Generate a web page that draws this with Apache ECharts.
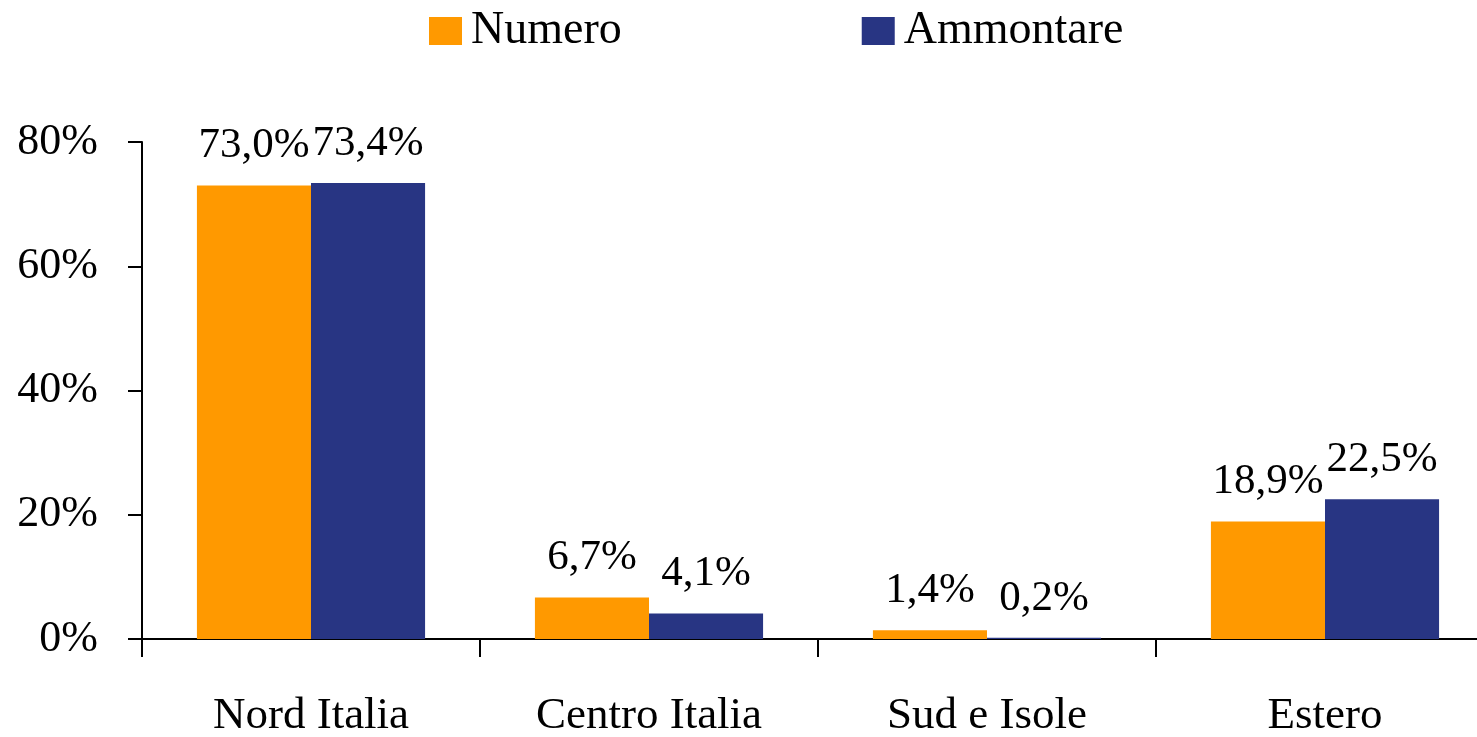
<!DOCTYPE html>
<html>
<head>
<meta charset="utf-8">
<title>Numero / Ammontare</title>
<script src="https://cdn.jsdelivr.net/npm/echarts@6/dist/echarts.min.js"></script>
<style>
  html, body { margin: 0; padding: 0; background: #fff; }
  #main { width: 1477px; height: 737px; }
</style>
</head>
<body>
<div id="main"></div>
<script>
// dati
var categorie = ['Nord Italia', 'Centro Italia', 'Sud e Isole', 'Estero'];
var numero = [73.0, 6.7, 1.4, 18.9];
var ammontare = [73.4, 4.1, 0.2, 22.5];
var yTicks = [0, 20, 40, 60, 80];

var font = '"Liberation Serif", "Times New Roman", serif';

function fmtPerc(v) {
  return v.toFixed(1).replace('.', ',') + '%';
}

var chart = echarts.init(document.getElementById('main'));

var option = {
  animation: false,
  textStyle: { fontFamily: font, color: '#000' },
  legend: {
    left: 424,
    top: 3,
    itemWidth: 33,
    itemHeight: 28,
    itemGap: 240,
    icon: 'rect',
    textStyle: { fontFamily: font, fontSize: 46, color: '#000', padding: [0, 0, 0, 4] },
    data: ['Numero', 'Ammontare']
  },
  grid: {
    left: 142,
    top: 142,
    right: -17,
    bottom: 98,
    outerBoundsMode: 'none',
    containLabel: false
  },
  xAxis: {
    type: 'category',
    data: categorie,
    axisLine: { lineStyle: { color: '#000', width: 2 } },
    axisTick: { show: true, length: 18, lineStyle: { color: '#000', width: 2 } },
    axisLabel: { margin: 55, fontFamily: font, fontSize: 45, color: '#000' },
    splitLine: { show: false }
  },
  yAxis: {
    type: 'value',
    min: yTicks[0],
    max: yTicks[yTicks.length - 1],
    interval: 20,
    axisLine: { show: true, lineStyle: { color: '#000', width: 2 } },
    axisTick: { show: true, length: 14, lineStyle: { color: '#000', width: 2 } },
    axisLabel: { margin: 44, fontFamily: font, fontSize: 44, color: '#000', formatter: '{value}%' },
    splitLine: { show: false }
  },
  series: [{
    name: 'Numero',
    type: 'bar',
    data: numero,
    barGap: '0%',
    barCategoryGap: '32.5%',
    itemStyle: { color: '#FF9900' },
    label: {
      show: true,
      position: 'top',
      distance: 18,
      fontFamily: font,
      fontSize: 43,
      color: '#000',
      formatter: function (p) { return fmtPerc(p.value); }
    }
  }, {
    name: 'Ammontare',
    type: 'bar',
    data: ammontare,
    barGap: '0%',
    barCategoryGap: '32.5%',
    itemStyle: { color: '#283583' },
    label: {
      show: true,
      position: 'top',
      distance: 18,
      fontFamily: font,
      fontSize: 43,
      color: '#000',
      formatter: function (p) { return fmtPerc(p.value); }
    }
  }]
};

chart.setOption(option);
</script>
</body>
</html>
